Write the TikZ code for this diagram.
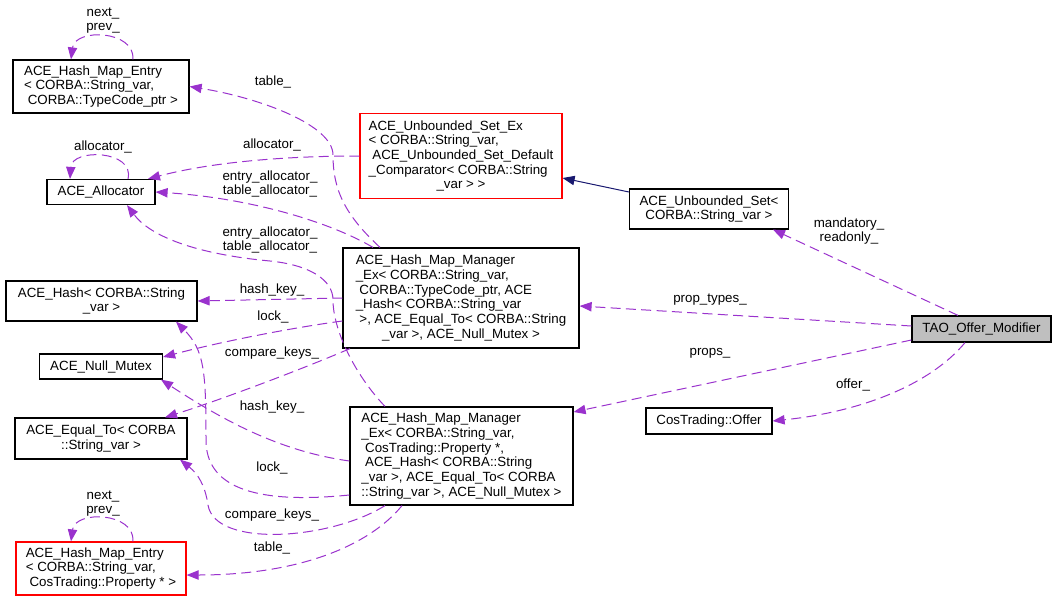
\documentclass[tikz,border=0pt]{standalone}
\usepackage{fontspec}
\setmainfont{Liberation Sans}
\usepackage{tikz}
\usetikzlibrary{arrows.meta}
\definecolor{usecol}{HTML}{9A32CD}
\definecolor{inhcol}{HTML}{191970}
\definecolor{maincol}{HTML}{BFBFBF}
\tikzstyle{cls}=[rectangle,draw=black,line width=0.9pt,fill=white,inner sep=0pt,align=left,font=\fontsize{10}{11}\selectfont]
\tikzstyle{lbl}=[inner sep=0pt,align=center,font=\fontsize{10}{11}\selectfont]
\tikzstyle{uses}=[draw=usecol,line width=0.75pt,dash pattern=on 7.5pt off 4pt,-{Triangle[length=9pt,width=7pt]}]
\tikzstyle{inherits}=[draw=inhcol,line width=0.75pt,-{Triangle[length=9pt,width=7pt]}]
\newcommand{\clsnode}{\node[cls]}
\newcommand{\rednode}{\node[cls,draw=red]}
\newcommand{\lblnode}{\node[lbl]}

\begin{document}
\begin{tikzpicture}[x=0.75pt,y=-0.75pt]
      \useasboundingbox (0,0) rectangle (1056,603);
      \clsnode[minimum width=132pt,minimum height=39.75pt] (entryA) at (101,86.5) {ACE\_Hash\_Map\_Entry\\< CORBA::String\_var,\\\hfil\ CORBA::TypeCode\_ptr >}; % entry
      \clsnode[minimum width=81pt,minimum height=18.75pt] (alloc) at (101,192) {ACE\_Allocator}; % allocator
      \rednode[minimum width=151.5pt,minimum height=63.75pt] (setEx) at (461,156) {ACE\_Unbounded\_Set\_Ex\\< CORBA::String\_var,\\\ ACE\_Unbounded\_Set\_Default\\\_Comparator< CORBA::String\\\hfil\_var > >}; % base set
      \clsnode[minimum width=119.25pt,minimum height=30pt] (uset) at (709,209) {ACE\_Unbounded\_Set<\\\hfil CORBA::String\_var >}; % set
      \clsnode[minimum width=177pt,minimum height=75pt] (hmmA) at (461,298) {ACE\_Hash\_Map\_Manager\\\_Ex< CORBA::String\_var,\\\ CORBA::TypeCode\_ptr, ACE\\\_Hash< CORBA::String\_var\\\ >, ACE\_Equal\_To< CORBA::String\\\hfil\_var >, ACE\_Null\_Mutex >}; % map of types
      \clsnode[minimum width=143.25pt,minimum height=30pt] (hash) at (101.5,301) {ACE\_Hash< CORBA::String\\\hfil\_var >}; % hash
      \clsnode[minimum width=92.25pt,minimum height=18.75pt] (mutex) at (101,366.5) {ACE\_Null\_Mutex}; % lock
      \clsnode[minimum width=129pt,minimum height=30.75pt] (equal) at (101,438.5) {ACE\_Equal\_To< CORBA\\\hfil::String\_var >}; % compare
      \rednode[minimum width=127.5pt,minimum height=39.75pt] (entryB) at (101,568.5) {ACE\_Hash\_Map\_Entry\\< CORBA::String\_var,\\\hfil\ CosTrading::Property * >}; % entry
      \clsnode[minimum width=167.25pt,minimum height=73.5pt] (hmmB) at (461.5,456) {ACE\_Hash\_Map\_Manager\\\_Ex< CORBA::String\_var,\\\ CosTrading::Property *,\\\ ACE\_Hash< CORBA::String\\\_var >, ACE\_Equal\_To< CORBA\\\hfil::String\_var >, ACE\_Null\_Mutex >}; % map of props
      \clsnode[minimum width=104.25pt,minimum height=19.5pt,fill=maincol] (tao) at (981.5,329) {TAO\_Offer\_Modifier}; % the class
      \clsnode[minimum width=94.5pt,minimum height=19.5pt] (offer) at (709,421) {CosTrading::Offer}; % offer
      %%%% edge labels
      \lblnode (lnextA) at (103,20.5) {next\_\\prev\_};
      \lblnode (lallocself) at (103,147) {allocator\_};
      \lblnode (ltableA) at (273,82) {table\_};
      \lblnode (lallocset) at (272,145) {allocator\_};
      \lblnode (lallocA) at (270,184) {entry\_allocator\_\\table\_allocator\_};
      \lblnode (lallocB) at (270,240) {entry\_allocator\_\\table\_allocator\_};
      \lblnode (lhashA) at (272,290) {hash\_key\_};
      \lblnode (llockA) at (273,317) {lock\_};
      \lblnode (lcmpA) at (272,353) {compare\_keys\_};
      \lblnode (lhashB) at (272,407) {hash\_key\_};
      \lblnode (llockB) at (272,468) {lock\_};
      \lblnode (lcmpB) at (272,515) {compare\_keys\_};
      \lblnode (ltableB) at (272,548) {table\_};
      \lblnode (lnextB) at (103,503.5) {next\_\\prev\_};
      \lblnode (lset) at (849,231) {mandatory\_\\readonly\_};
      \lblnode (ltypes) at (710,300) {prop\_types\_};
      \lblnode (lprops) at (710,353) {props\_};
      \lblnode (loffer) at (853,385) {offer\_};
      %%%% graph links
      \draw[uses] (133,0 |- entryA.north) .. controls (135,30) and (75,28) .. (71,0 |- entryA.north);
      \draw[uses] (128,0 |- alloc.north) .. controls (135,150) and (72,148) .. (70,0 |- alloc.north);
      \draw[uses] (133,0 |- entryB.north) .. controls (135,512) and (75,510) .. (71,0 |- entryB.north);
      \draw[uses] (setEx.west) .. controls (300,156) and (220,160) .. (148,0 |- alloc.north);
      \draw[uses] (380,0 |- hmmA.north) .. controls (345,215) and (333,190) .. (333,155) .. controls (333,125) and (260,98) .. (entryA.east);
      \draw[uses] (373,0 |- hmmA.north) .. controls (330,222) and (250,198) .. (alloc.east);
      \draw[uses] (385,0 |- hmmB.north) .. controls (355,375) and (333,330) .. (333,300) .. controls (333,280) and (310,265) .. (270,261) .. controls (195,254) and (150,236) .. (127,0 |- alloc.south);
      \draw[uses] (hmmA.west) -- (hash.east);
      \draw[uses] (0,321 -| hmmA.west) .. controls (290,328) and (220,342) .. (0,357 -| mutex.east);
      \draw[uses] (350,0 |- hmmA.south) .. controls (300,370) and (220,400) .. (165,0 |- equal.north);
      \draw[uses] (0,495 -| hmmB.west) .. controls (250,505) and (206,485) .. (206,440) .. controls (206,370) and (204,350) .. (176,0 |- hash.south);
      \draw[uses] (0,461 -| hmmB.west) .. controls (285,452) and (230,425) .. (161,0 |- mutex.south);
      \draw[uses] (385,0 |- hmmB.south) .. controls (330,540) and (215,548) .. (208,505) .. controls (205,485) and (198,474) .. (180,0 |- equal.south);
      \draw[uses] (402,0 |- hmmB.south) .. controls (370,545) and (300,575) .. (0,575 -| entryB.east);
      \draw[inherits] (0,192 -| uset.west) -- (0,178 -| setEx.east);
      \draw[uses] (958,0 |- tao.north) -- (773,0 |- uset.south);
      \draw[uses] (0,326 -| tao.west) -- (0,306 -| hmmA.east);
      \draw[uses] (0,340 -| tao.west) -- (0,412 -| hmmB.east);
      \draw[uses] (965,0 |- tao.south) .. controls (930,385) and (860,412) .. (offer.east);
    \end{tikzpicture}
\end{document}
